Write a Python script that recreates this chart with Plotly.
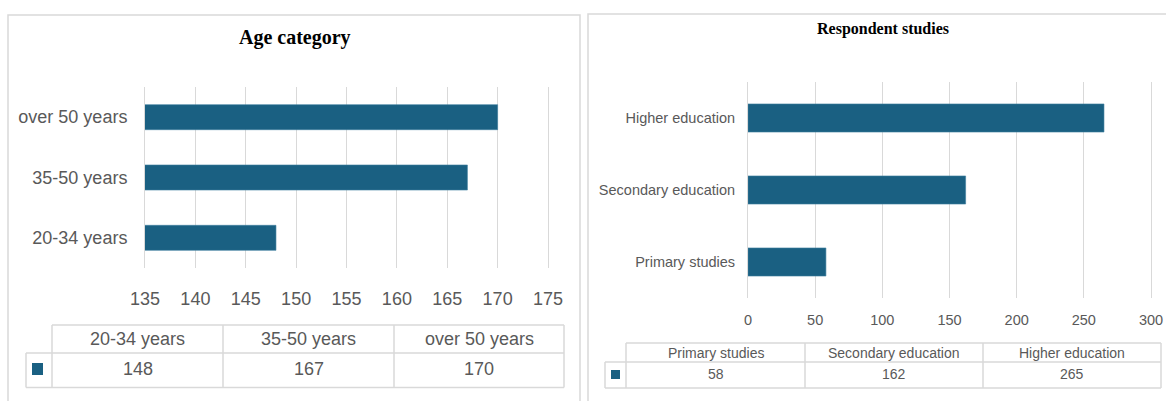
import plotly.graph_objects as go

# Survey breakdowns
age_categories = ["20-34 years", "35-50 years", "over 50 years"]
age_counts = [148, 167, 170]

study_categories = ["Primary studies", "Secondary education", "Higher education"]
study_counts = [58, 162, 265]

age_ticks = [135, 140, 145, 150, 155, 160, 165, 170, 175]
study_ticks = [0, 50, 100, 150, 200, 250, 300]

W, H = 1166, 401
BAR = "#1a6082"
GRID = "#d9d9d9"
LABEL = "#595959"
TABLE_TXT = "#595959"


def px(x):
    return x / W


def py(y):
    return 1 - y / H


fig = go.Figure()

fig.add_trace(go.Bar(
    x=age_counts, y=age_categories, orientation="h",
    marker=dict(color=BAR, line=dict(color="#3f7fa0", width=0.6)),
    width=0.415, xaxis="x", yaxis="y", showlegend=False,
))
fig.add_trace(go.Bar(
    x=study_counts, y=study_categories, orientation="h",
    marker=dict(color=BAR, line=dict(color="#3f7fa0", width=0.6)),
    width=0.39, xaxis="x2", yaxis="y2", showlegend=False,
))

sans = "Liberation Sans, Arial, sans-serif"

fig.update_layout(
    width=W, height=H, autosize=False,
    margin=dict(l=0, r=0, t=0, b=0, pad=0),
    paper_bgcolor="white", plot_bgcolor="white",
    bargap=0.5,
    xaxis=dict(
        domain=[px(145), px(548)], range=[135, 175], tickvals=age_ticks,
        showgrid=True, gridcolor=GRID, gridwidth=1, zeroline=False,
        showline=False, ticks="", ticklabelstandoff=18, automargin=False,
        tickfont=dict(family=sans, size=18, color=LABEL), anchor="y",
    ),
    yaxis=dict(
        domain=[py(268), py(87)], categoryorder="array",
        categoryarray=age_categories, showgrid=False, zeroline=False,
        showline=True, mirror=True, linecolor=GRID, linewidth=1,
        ticks="", ticklabelstandoff=13, automargin=False,
        tickfont=dict(family=sans, size=18, color=LABEL), anchor="x",
    ),
    xaxis2=dict(
        domain=[px(748), px(1151)], range=[0, 300], tickvals=study_ticks,
        showgrid=True, gridcolor=GRID, gridwidth=1, zeroline=False,
        showline=False, ticks="", ticklabelstandoff=11, automargin=False,
        tickfont=dict(family=sans, size=14.5, color=LABEL), anchor="y2",
    ),
    yaxis2=dict(
        domain=[py(298), py(82)], categoryorder="array",
        categoryarray=study_categories, showgrid=False, zeroline=False,
        showline=True, mirror=True, linecolor=GRID, linewidth=1,
        ticks="", ticklabelstandoff=9, automargin=False,
        tickfont=dict(family=sans, size=14.5, color=LABEL), anchor="x2",
    ),
)

shapes = []
annotations = []

# Panel frames
for x0, x1, y0 in [(8, 580, 15), (588, 1180, 14)]:
    shapes.append(dict(
        type="rect", xref="paper", yref="paper",
        x0=px(x0), x1=px(x1), y0=py(y0), y1=py(420),
        line=dict(color=GRID, width=1.5), fillcolor="rgba(0,0,0,0)", layer="below",
    ))

# Panel titles
serif = "Liberation Serif, Times New Roman, serif"
annotations.append(dict(
    text="Age category", x=px(295), y=py(37), xref="paper", yref="paper",
    showarrow=False, xanchor="center", yanchor="middle",
    font=dict(family=serif, size=20, color="black", weight="bold"),
))
annotations.append(dict(
    text="Respondent studies", x=px(883), y=py(29), xref="paper", yref="paper",
    showarrow=False, xanchor="center", yanchor="middle",
    font=dict(family=serif, size=16, color="black", weight="bold"),
))


def data_table(cats, vals, col_edges, key_x0, row_top, row_mid, row_bot,
               key_box, size):
    line = dict(color=GRID, width=1.5)
    left, right = col_edges[0], col_edges[-1]
    # outer grid lines
    shapes.append(dict(type="line", xref="paper", yref="paper",
                       x0=px(left), x1=px(right), y0=py(row_top), y1=py(row_top), line=line))
    shapes.append(dict(type="line", xref="paper", yref="paper",
                       x0=px(key_x0), x1=px(right), y0=py(row_mid), y1=py(row_mid), line=line))
    shapes.append(dict(type="line", xref="paper", yref="paper",
                       x0=px(key_x0), x1=px(right), y0=py(row_bot), y1=py(row_bot), line=line))
    shapes.append(dict(type="line", xref="paper", yref="paper",
                       x0=px(key_x0), x1=px(key_x0), y0=py(row_mid), y1=py(row_bot), line=line))
    for e in col_edges:
        shapes.append(dict(type="line", xref="paper", yref="paper",
                           x0=px(e), x1=px(e), y0=py(row_top), y1=py(row_bot), line=line))
    # legend key
    kx0, kx1, ky0, ky1 = key_box
    shapes.append(dict(type="rect", xref="paper", yref="paper",
                       x0=px(kx0), x1=px(kx1), y0=py(ky1), y1=py(ky0),
                       fillcolor=BAR, line=dict(width=0)))
    for i, (c, v) in enumerate(zip(cats, vals)):
        cx = (col_edges[i] + col_edges[i + 1]) / 2
        annotations.append(dict(
            text=c, x=px(cx), y=py((row_top + row_mid) / 2), xref="paper", yref="paper",
            showarrow=False, xanchor="center", yanchor="middle",
            font=dict(family=sans, size=size, color=TABLE_TXT),
        ))
        annotations.append(dict(
            text=str(v), x=px(cx), y=py((row_mid + row_bot) / 2 - 1), xref="paper", yref="paper",
            showarrow=False, xanchor="center", yanchor="middle",
            font=dict(family=sans, size=size, color=TABLE_TXT),
        ))


data_table(age_categories, age_counts, [52, 223, 394, 564], 26,
           325, 353, 387.5, (32, 43, 363, 375), 18)
data_table(study_categories, study_counts, [626, 805, 983, 1161], 605,
           343, 362, 388, (611, 620, 370, 379), 14)

fig.update_layout(shapes=shapes, annotations=annotations)

fig.write_html("out.html")
